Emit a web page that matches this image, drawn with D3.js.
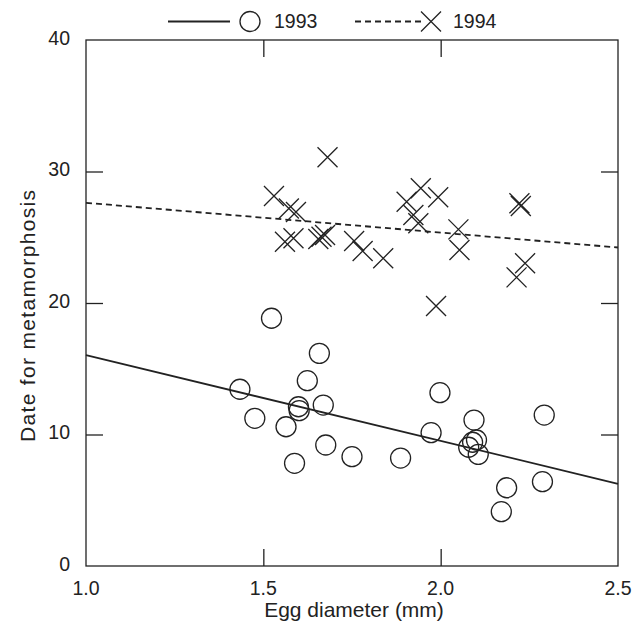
<!DOCTYPE html>
<html>
<head>
<meta charset="utf-8">
<script src="https://cdn.jsdelivr.net/npm/d3@7"></script>
<style>
  body { margin: 0; background: #fff; }
  text { font-family: "Liberation Sans", Arial, sans-serif; fill: #222; }
</style>
</head>
<body>
<svg id="chart" width="639" height="624"></svg>
<script>
// egg diameter (mm) / date for metamorphosis
var x1993 = [1.523, 1.658, 1.624, 1.434, 1.599, 1.601, 1.669, 1.476, 1.564, 1.676, 1.750, 1.588,
             1.998, 2.094, 1.973, 2.292, 1.887, 2.101, 2.090, 2.079, 2.106, 2.186, 2.287, 2.171];
var y1993 = [18.84, 16.17, 14.09, 13.44, 12.11, 11.81, 12.24, 11.23, 10.59, 9.20, 8.31, 7.81,
             13.18, 11.10, 10.14, 11.48, 8.21, 9.58, 9.41, 9.03, 8.49, 5.95, 6.41, 4.13];
var x1994 = [1.681, 1.530, 1.572, 1.592, 1.561, 1.585, 1.655, 1.664, 1.674, 1.756, 1.780, 1.838,
             1.944, 1.904, 1.993, 1.923, 1.937, 2.050, 2.053, 2.222, 2.226, 2.238, 2.214, 1.987];
var y1994 = [31.08, 28.14, 27.19, 26.92, 24.66, 24.92, 24.87, 25.04, 25.17, 24.71, 23.95, 23.40,
             28.72, 27.70, 28.04, 26.69, 26.06, 25.60, 24.03, 27.58, 27.38, 23.02, 21.95, 19.77];

// fitted lines, end points at x = 1.0 and 2.5
var fitX = [1.0, 2.5];
var fit1993 = [16.04, 6.25];
var fit1994 = [27.62, 24.22];

var xTicks = [1.0, 1.5, 2.0, 2.5];
var yTicks = [0, 10, 20, 30, 40];

(function () {
  'use strict';

  var ink = '#222';
  var svg = d3.select('#chart');
  var left = 86, right = 618, top = 40, bottom = 566;

  var x = d3.scaleLinear().domain([1, 2.5]).range([left, right]);
  var y = d3.scaleLinear().domain([0, 40]).range([bottom, top]);

  /*==== frame + inner ticks ====*/
  svg.append('rect')
    .attr('x', left).attr('y', top)
    .attr('width', right - left).attr('height', bottom - top)
    .attr('fill', 'none').attr('stroke', ink).attr('stroke-width', 1.3);

  var tk = 17;
  var inner = function (axis) {
    return axis.tickSizeInner(tk).tickSizeOuter(0).tickFormat('');
  };
  var midX = xTicks.slice(1, -1), midY = yTicks.slice(1, -1);

  svg.append('g').attr('transform', 'translate(0,' + bottom + ')')
    .call(inner(d3.axisTop(x).tickValues(midX)));
  svg.append('g').attr('transform', 'translate(0,' + top + ')')
    .call(inner(d3.axisBottom(x).tickValues(midX)));
  svg.append('g').attr('transform', 'translate(' + left + ',0)')
    .call(inner(d3.axisRight(y).tickValues(midY)));
  svg.append('g').attr('transform', 'translate(' + right + ',0)')
    .call(inner(d3.axisLeft(y).tickValues(midY)));
  svg.selectAll('.domain').remove();
  svg.selectAll('.tick line').attr('stroke', ink).attr('stroke-width', 1.3);

  /*==== tick labels ====*/
  svg.append('g').selectAll('text').data(xTicks).enter().append('text')
    .attr('x', function (d) { return x(d); })
    .attr('y', bottom + 29)
    .attr('text-anchor', 'middle')
    .attr('font-size', 19.5)
    .text(function (d) { return d.toFixed(1); });

  svg.append('g').selectAll('text').data(yTicks).enter().append('text')
    .attr('x', 70)
    .attr('y', function (d) { return y(d) + 4.5; })
    .attr('text-anchor', 'end')
    .attr('font-size', 19.5)
    .text(function (d) { return d; });

  svg.append('text')
    .attr('x', 354).attr('y', 617)
    .attr('text-anchor', 'middle').attr('font-size', 21)
    .text('Egg diameter (mm)');

  svg.append('text')
    .attr('transform', 'translate(35,316) rotate(-90)')
    .attr('text-anchor', 'middle').attr('font-size', 21)
    .attr('textLength', 252).attr('lengthAdjust', 'spacing')
    .text('Date for metamorphosis');

  /*==== fitted lines ====*/
  var line = d3.line()
    .x(function (d) { return x(d[0]); })
    .y(function (d) { return y(d[1]); });

  svg.append('path')
    .datum(d3.zip(fitX, fit1993))
    .attr('d', line)
    .attr('fill', 'none').attr('stroke', ink).attr('stroke-width', 1.8);

  svg.append('path')
    .datum(d3.zip(fitX, fit1994))
    .attr('d', line)
    .attr('fill', 'none').attr('stroke', ink).attr('stroke-width', 1.8)
    .attr('stroke-dasharray', '6,4');

  /*==== points ====*/
  var r = 10;
  svg.append('g').selectAll('circle').data(d3.zip(x1993, y1993)).enter().append('circle')
    .attr('cx', function (d) { return x(d[0]); })
    .attr('cy', function (d) { return y(d[1]); })
    .attr('r', r)
    .attr('fill', 'none').attr('stroke', ink).attr('stroke-width', 1.3);

  var cross = 'M-10,-10L10,10M-10,10L10,-10';
  svg.append('g').selectAll('path').data(d3.zip(x1994, y1994)).enter().append('path')
    .attr('transform', function (d) { return 'translate(' + x(d[0]) + ',' + y(d[1]) + ')'; })
    .attr('d', cross)
    .attr('fill', 'none').attr('stroke', ink).attr('stroke-width', 1.3);

  /*==== legend ====*/
  var ly = 21.5;
  var lg = svg.append('g');
  lg.append('line').attr('x1', 168).attr('x2', 230).attr('y1', ly).attr('y2', ly)
    .attr('stroke', ink).attr('stroke-width', 1.8);
  lg.append('circle').attr('cx', 250).attr('cy', ly).attr('r', r)
    .attr('fill', 'none').attr('stroke', ink).attr('stroke-width', 1.3);
  lg.append('text').attr('x', 274).attr('y', 27.5).attr('font-size', 19.5).text('1993');

  lg.append('line').attr('x1', 355).attr('x2', 422).attr('y1', ly).attr('y2', ly)
    .attr('stroke', ink).attr('stroke-width', 1.8).attr('stroke-dasharray', '6,4');
  lg.append('path').attr('transform', 'translate(431,' + ly + ')').attr('d', cross)
    .attr('fill', 'none').attr('stroke', ink).attr('stroke-width', 1.3);
  lg.append('text').attr('x', 453).attr('y', 27.5).attr('font-size', 19.5).text('1994');
}());
</script>
</body>
</html>
